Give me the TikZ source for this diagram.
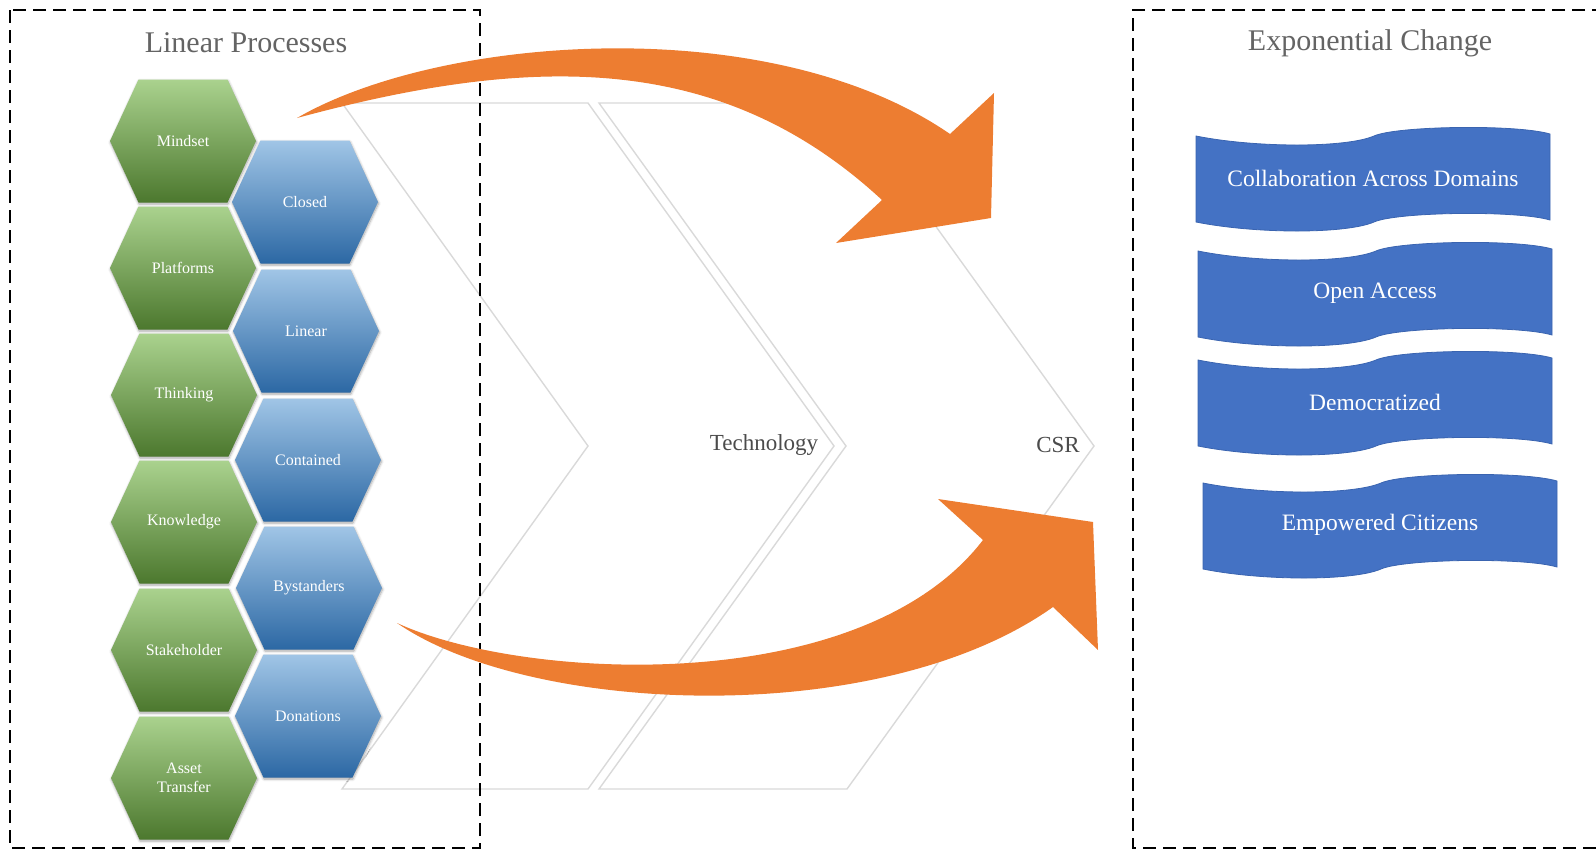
\documentclass[tikz,border=0pt]{standalone}
\usepackage{fontspec}
\setmainfont{Liberation Serif}
\usetikzlibrary{shadows.blur}

\definecolor{arroworange}{HTML}{ED7D31}
\definecolor{bannerblue}{HTML}{4472C4}
\definecolor{banneredge}{HTML}{3A64B0}
\definecolor{chevgray}{HTML}{D9D9D9}
\definecolor{titlegray}{RGB}{100,100,100}
\definecolor{labelgray}{RGB}{75,75,75}
\definecolor{gtop}{RGB}{170,210,142}
\definecolor{gmid}{RGB}{112,173,71}
\definecolor{gbot}{RGB}{76,120,46}
\definecolor{btop}{RGB}{160,197,230}
\definecolor{bmid}{RGB}{92,156,213}
\definecolor{bbot}{RGB}{44,104,164}

\tikzset{
  framebox/.style={draw=black, line width=2.6pt, dash pattern=on 13pt off 7pt},
  chevron/.style={draw=chevgray, line width=1.4pt, line join=miter},
  greenhex/.style={top color=gtop, middle color=gmid, bottom color=gbot,
    blur shadow={shadow blur steps=6, shadow xshift=0.5pt, shadow yshift=-1.5pt,
      shadow blur radius=2.5pt, shadow opacity=35}},
  bluehex/.style={top color=btop, middle color=bmid, bottom color=bbot,
    blur shadow={shadow blur steps=6, shadow xshift=0.5pt, shadow yshift=-1.5pt,
      shadow blur radius=2.5pt, shadow opacity=35}},
  hexlabel/.style={text=white, font=\fontsize{16}{18}\selectfont, align=center, inner sep=0pt},
  title/.style={text=titlegray, font=\fontsize{30}{34}\selectfont, inner sep=0pt},
  steplabel/.style={text=labelgray, font=\fontsize{23}{26}\selectfont, inner sep=0pt},
  bannershape/.style={fill=bannerblue, draw=banneredge, line width=0.8pt},
  bannerlabel/.style={text=white, font=\fontsize{23.5}{26}\selectfont, inner sep=0pt},
  bigarrow/.style={fill=arroworange},
}

% hexagon cell: name, centre x, centre y, style, label
\newcommand{\hexcell}[5]{%
  \begin{scope}[shift={(#2,#3)}]
    \path[#4] (-73,0) -- (-44.5,-61.5) -- (44.5,-61.5) -- (73,0)
      -- (44.5,61.5) -- (-44.5,61.5) -- cycle;
    \node[hexlabel] (#1) at (0,0) {#5};
  \end{scope}}

% wavy banner: name, left x, top-left y, label
\newcommand{\wavebanner}[4]{%
  \begin{scope}[shift={(#2,#3)}]
    \path[bannershape] (0,0) .. controls (60,12) and (150,12) .. (178,0)
      .. controls (200,-10) and (320,-12) .. (354,-2) -- (354,84)
      .. controls (320,74) and (200,76) .. (178,86)
      .. controls (150,98) and (60,98) .. (0,86) -- cycle;
    \node[bannerlabel] (#1) at (177,42) {#4};
  \end{scope}}

\begin{document}
\begin{tikzpicture}[x=1pt, y=-1pt]
  \useasboundingbox (0,0) rectangle (1596,852);

  % chevron outlines of the process band
  \draw[chevron] (342,103) -- (588,103) -- (834,446) -- (588,789)
    -- (342,789) -- (588,446) -- cycle;
  \draw[chevron] (599,103) -- (847,103) -- (1094,446) -- (847,789)
    -- (599,789) -- (846,446) -- cycle;
  \node[steplabel] (tech) at (764,445) {Technology};
  \node[steplabel] (csr) at (1058,445) {CSR};

  % dashed frames
  \draw[framebox] (10,10) rectangle (480,848);
  \draw[framebox] (1605,10) -- (1133,10) -- (1133,848) -- (1605,848);

  \node[title] (linear) at (246,43) {Linear Processes};
  \node[title] (expo) at (1370,43) {Exponential Change};

  % green column
  \hexcell{mindset}{183}{141}{greenhex}{Mindset}
  \hexcell{platforms}{183}{268}{greenhex}{Platforms}
  \hexcell{thinking}{184}{395}{greenhex}{Thinking}
  \hexcell{knowledge}{184}{522}{greenhex}{Knowledge}
  \hexcell{stakeholder}{184}{650}{greenhex}{Stakeholder}
  \hexcell{asset}{184}{778}{greenhex}{Asset\\[1pt]Transfer}

  % blue column
  \hexcell{closed}{305}{202}{bluehex}{Closed}
  \hexcell{linearhex}{306}{331}{bluehex}{Linear}
  \hexcell{contained}{308}{460}{bluehex}{Contained}
  \hexcell{bystanders}{309}{588}{bluehex}{Bystanders}
  \hexcell{donations}{308}{716}{bluehex}{Donations}

  % banners
  \wavebanner{collab}{1196}{136}{Collaboration Across Domains}
  \wavebanner{open}{1198}{251}{Open Access}
  \wavebanner{democ}{1198}{360}{Democratized}
  \wavebanner{empower}{1203}{483}{Empowered Citizens}

  % upper curved arrow
  \coordinate (ua-tail) at (297,118);
  \coordinate (ua-nu) at (950,134);
  \coordinate (ua-bu) at (994,93);
  \coordinate (ua-tip) at (991,218);
  \coordinate (ua-bl) at (836,243);
  \coordinate (ua-nl) at (882,200);
  \path[bigarrow] (ua-tail) .. controls (440,35) and (770,10) .. (ua-nu)
    -- (ua-bu) -- (ua-tip) -- (ua-bl) -- (ua-nl)
    .. controls (720,50) and (530,55) .. (ua-tail) -- cycle;

  % lower curved arrow
  \coordinate (la-tail) at (397,623);
  \coordinate (la-nu) at (983,540);
  \coordinate (la-bu) at (938,499);
  \coordinate (la-tip) at (1093,522);
  \coordinate (la-bl) at (1098,650);
  \coordinate (la-nl) at (1053,607);
  \path[bigarrow] (la-tail) .. controls (520,680) and (860,700) .. (la-nu)
    -- (la-bu) -- (la-tip) -- (la-bl) -- (la-nl)
    .. controls (880,730) and (530,715) .. (la-tail) -- cycle;
\end{tikzpicture}
\end{document}
